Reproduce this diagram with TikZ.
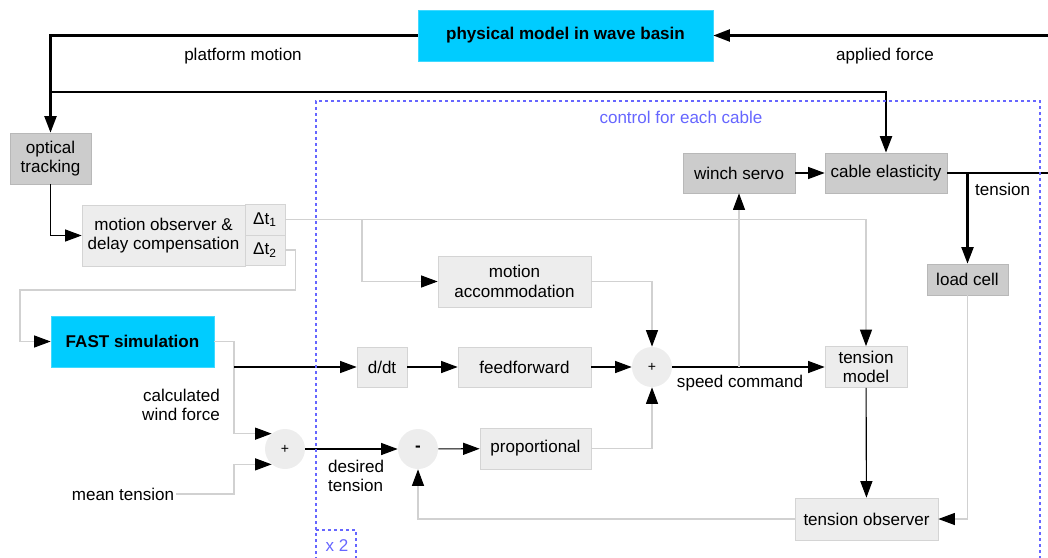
\documentclass[tikz,border=0pt]{standalone}
\usepackage{fontspec}
\setmainfont{Liberation Sans}
\usetikzlibrary{arrows.meta,positioning}
\definecolor{simcyan}{HTML}{00CCFF}
\definecolor{ctrlblue}{HTML}{6666FF}

\begin{document}
\begin{tikzpicture}[x=0.2mm,y=-0.2mm,>={Triangle[length=3.3mm,width=2.4mm,color=black]},
  blk/.style={draw=black!17,fill=black!7,inner sep=0pt,align=center,font=\fontsize{9.7}{11}\selectfont},
  hw/.style={draw=black!28,fill=black!20,inner sep=0pt,align=center,font=\fontsize{9.7}{11}\selectfont},
  sim/.style={draw=simcyan!75!white,fill=simcyan,inner sep=0pt,align=center,font=\fontsize{9.7}{11}\selectfont\bfseries},
  sumnode/.style={circle,fill=black!7,minimum size=8mm,inner sep=0pt,font=\fontsize{8}{9}\selectfont},
  lbl/.style={inner sep=1pt,align=center,font=\fontsize{9.7}{11}\selectfont},
  sig/.style={black,line width=0.65pt},
  bus/.style={black,line width=1.2pt},
  aux/.style={black!18,line width=0.6pt},
  ctrlframe/.style={ctrlblue,line width=0.4mm,dash pattern=on 0.6mm off 0.6mm}]
\useasboundingbox (0,0) rectangle (1048,558);
\node[sim,minimum width=59mm,minimum height=10.2mm] (basin) at (565.5,35.5) {physical model in wave basin};
\node[hw,minimum width=16.2mm,minimum height=10.2mm] (optical) at (50.5,158.5) {optical\\tracking};
\node[blk,minimum width=32.6mm,minimum height=12.2mm] (observer) at (163.5,235.5) {motion observer \&\\delay compensation};
\node[blk,minimum width=8mm,minimum height=6.2mm] (dta) at (265,219.5) {Δt\textsubscript{1}};
\node[blk,minimum width=8mm,minimum height=6mm] (dtb) at (265,250) {Δt\textsubscript{2}};
\node[sim,minimum width=32.6mm,minimum height=10.2mm] (fast) at (132.5,341.5) {FAST simulation};
\node[blk,minimum width=30.6mm,minimum height=10.2mm] (accom) at (514.5,281.5) {motion\\accommodation};
\node[blk,minimum width=10mm,minimum height=8mm] (ddt) at (382,367) {d/dt};
\node[blk,minimum width=26.6mm,minimum height=8mm] (ffwd) at (524.5,367) {feedforward};
\node[blk,minimum width=22.2mm,minimum height=8.2mm] (prop) at (535.5,448.5) {proportional};
\node[hw,minimum width=22.4mm,minimum height=8mm] (winch) at (739,173) {winch servo};
\node[hw,minimum width=24.4mm,minimum height=8mm] (cable) at (886,173) {cable elasticity};
\node[hw,minimum width=16.2mm,minimum height=6.2mm] (loadcell) at (967.5,279.5) {load cell};
\node[blk,minimum width=16.4mm,minimum height=8.2mm] (tmodel) at (866,367) {tension\\model};
\node[blk,minimum width=28.6mm,minimum height=8.4mm] (tobs) at (866.5,519) {tension observer};
\node[sumnode] (sumw) at (285,449) {+};
\node[sumnode,font=\fontsize{9.7}{11}\selectfont\bfseries] (diff) at (418,449) {-};
\node[sumnode] (sums) at (652,367) {+};
\node[lbl] (lplat) at (243,56) {platform motion};
\node[lbl] (lforce) at (885,56) {applied force};
\node[lbl,align=right,anchor=east] (lwind) at (222,405) {calculated\\wind force};
\node[lbl] (lmean) at (123,494) {mean tension};
\node[lbl,align=left,anchor=west] (ldes) at (326,476) {desired\\tension};
\node[lbl] (lspeed) at (740,383) {speed command};
\node[lbl,anchor=west] (lten) at (973,189) {tension};
\node[lbl,text=ctrlblue] (lctrl) at (681,117) {control for each cable};
\node[lbl,text=ctrlblue] (lcopies) at (337,546) {x 2};
\coordinate (busl) at (50.5,92);
\coordinate (rightin) at (1048,35.5);
\coordinate (rightout) at (1048,173);
\coordinate (tsplit) at (967.5,173);
\coordinate (asplit) at (362,219.5);
\coordinate (fsplit) at (234,367);
\coordinate (ssplit) at (739,367);
\draw[bus,->] (basin.west) -| (optical.north);
\draw[bus,->] (busl) -| (cable.north);
\draw[bus,->] (rightin) -- (basin.east);
\draw[bus] (cable.east) -- (rightout);
\draw[bus,->] (tsplit) -- (loadcell.north);
\draw[sig,->] (optical.south) |- (observer.west);
\draw[aux,->] (dta.east) -| (tmodel.north);
\draw[aux,->] (asplit) |- (accom.west);
\draw[aux,->] (accom.east) -| (sums.north);
\draw[aux,->] (dtb.east) -- ++(10,0) |- (20,290) |- (fast.west);
\draw[aux,->] (fast.east) -| (fsplit) |- (sumw.131);
\draw[sig,->] (fsplit) -- (ddt.west);
\draw[aux,->] (lmean.east) -- (lmean.east -| fsplit) |- (sumw.229);
\draw[sig,->] (sumw) -- (diff);
\draw[sig,->] (diff) -- (prop);
\draw[aux,->] (prop.east) -| (sums.south);
\draw[sig,->] (ddt) -- (ffwd);
\draw[sig,->] (ffwd) -- (sums);
\draw[sig,->] (sums) -- (tmodel);
\draw[aux,->] (ssplit) -- (winch.south);
\draw[sig,->] (winch) -- (cable);
\draw[aux,->] (loadcell.south) |- (tobs.east);
\draw[sig,->] (tmodel) -- (tobs);
\draw[aux,->] (tobs.west) -| (diff.south);
\draw[ctrlframe] (316,560) -- (316,101) -- (1040,101) -- (1040,560);
\draw[ctrlframe] (316,530) -- (356,530) -- (356,560);
\end{tikzpicture}
\end{document}
